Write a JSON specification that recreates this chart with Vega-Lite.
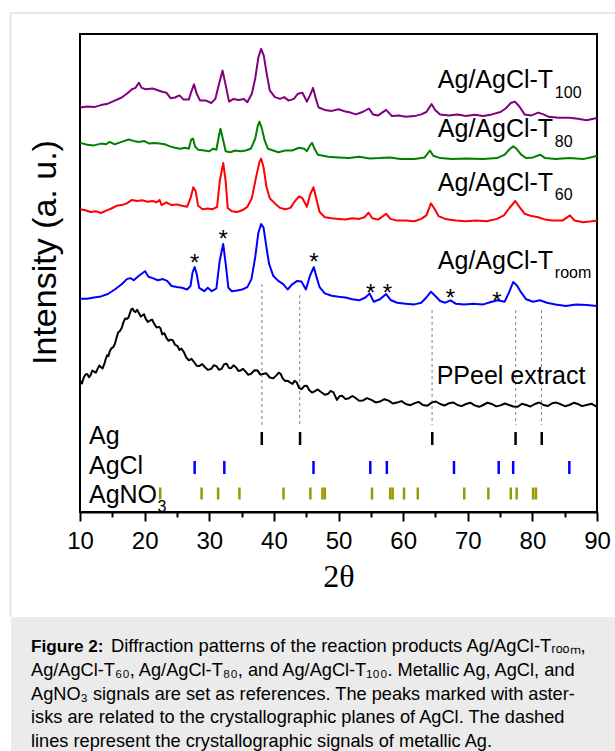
{
"$schema": "https://vega.github.io/schema/vega-lite/v6.json",
"width": 517, "height": 478,
"autosize": {"type": "none"},
"padding": {"left": 80, "top": 34, "right": 18, "bottom": 239},
"background": "white",
"config": {"view": {"stroke": "black", "strokeWidth": 2}, "font": "Liberation Sans", "axis": {"grid": false}},
"resolve": {"axis": {"x": "independent", "y": "independent"}},
"datasets": {
"one": [{}],
"curves": [
{"sample":"T100","theta":10.05,"intensity":404.5},{"sample":"T100","theta":11.12,"intensity":405.5},{"sample":"T100","theta":12.18,"intensity":404.9},{"sample":"T100","theta":13.25,"intensity":406.9},{"sample":"T100","theta":14.31,"intensity":408.3},{"sample":"T100","theta":15.38,"intensity":411.4},{"sample":"T100","theta":16.45,"intensity":414.5},{"sample":"T100","theta":17.25,"intensity":418.3},{"sample":"T100","theta":18.04,"intensity":422.8},{"sample":"T100","theta":18.58,"intensity":424.1},{"sample":"T100","theta":19.11,"intensity":429.3},{"sample":"T100","theta":19.54,"intensity":424.1},{"sample":"T100","theta":20.18,"intensity":422.8},{"sample":"T100","theta":21.24,"intensity":423.5},{"sample":"T100","theta":22.04,"intensity":421.7},{"sample":"T100","theta":22.84,"intensity":420},{"sample":"T100","theta":23.37,"intensity":419.3},{"sample":"T100","theta":24.01,"intensity":413.8},{"sample":"T100","theta":24.71,"intensity":414.5},{"sample":"T100","theta":25.4,"intensity":416.6},{"sample":"T100","theta":26.04,"intensity":412.4},{"sample":"T100","theta":26.84,"intensity":412.4},{"sample":"T100","theta":27.21,"intensity":420},{"sample":"T100","theta":27.64,"intensity":427.6},{"sample":"T100","theta":28.06,"intensity":418.3},{"sample":"T100","theta":28.59,"intensity":411.4},{"sample":"T100","theta":29.5,"intensity":411.4},{"sample":"T100","theta":30.3,"intensity":409},{"sample":"T100","theta":30.94,"intensity":413.1},{"sample":"T100","theta":31.47,"intensity":426.9},{"sample":"T100","theta":32.06,"intensity":441.4},{"sample":"T100","theta":32.54,"intensity":426.9},{"sample":"T100","theta":33.07,"intensity":410.4},{"sample":"T100","theta":33.76,"intensity":413.1},{"sample":"T100","theta":34.56,"intensity":412.1},{"sample":"T100","theta":35.36,"intensity":413.1},{"sample":"T100","theta":35.89,"intensity":409.7},{"sample":"T100","theta":36.59,"intensity":418.3},{"sample":"T100","theta":37.12,"intensity":433.8},{"sample":"T100","theta":37.6,"intensity":454.5},{"sample":"T100","theta":38.03,"intensity":463.1},{"sample":"T100","theta":38.45,"intensity":456.2},{"sample":"T100","theta":38.83,"intensity":440.7},{"sample":"T100","theta":39.36,"intensity":421.7},{"sample":"T100","theta":40.16,"intensity":414.9},{"sample":"T100","theta":40.96,"intensity":413.1},{"sample":"T100","theta":41.6,"intensity":414.9},{"sample":"T100","theta":42.29,"intensity":411.4},{"sample":"T100","theta":43.09,"intensity":413.1},{"sample":"T100","theta":43.73,"intensity":418.3},{"sample":"T100","theta":44.42,"intensity":419.3},{"sample":"T100","theta":45.11,"intensity":410.4},{"sample":"T100","theta":45.59,"intensity":416.6},{"sample":"T100","theta":46.07,"intensity":424.1},{"sample":"T100","theta":46.5,"intensity":413.1},{"sample":"T100","theta":46.92,"intensity":404.5},{"sample":"T100","theta":47.88,"intensity":402.1},{"sample":"T100","theta":48.95,"intensity":401.1},{"sample":"T100","theta":50.01,"intensity":402.8},{"sample":"T100","theta":51.08,"intensity":400.4},{"sample":"T100","theta":51.88,"intensity":399.4},{"sample":"T100","theta":52.68,"intensity":397.6},{"sample":"T100","theta":53.74,"intensity":400},{"sample":"T100","theta":54.71,"intensity":403.5},{"sample":"T100","theta":55.34,"intensity":397.6},{"sample":"T100","theta":56.14,"intensity":396.6},{"sample":"T100","theta":57.37,"intensity":402.1},{"sample":"T100","theta":58.27,"intensity":395.9},{"sample":"T100","theta":59.34,"intensity":396.6},{"sample":"T100","theta":60.41,"intensity":395.2},{"sample":"T100","theta":61.74,"intensity":395.9},{"sample":"T100","theta":62.8,"intensity":397.6},{"sample":"T100","theta":63.6,"intensity":400},{"sample":"T100","theta":64.4,"intensity":408},{"sample":"T100","theta":64.94,"intensity":402.1},{"sample":"T100","theta":65.73,"intensity":397.6},{"sample":"T100","theta":67.07,"intensity":396.6},{"sample":"T100","theta":68.4,"intensity":397.6},{"sample":"T100","theta":69.73,"intensity":395.9},{"sample":"T100","theta":71.06,"intensity":397.3},{"sample":"T100","theta":72.4,"intensity":395.9},{"sample":"T100","theta":73.73,"intensity":397.6},{"sample":"T100","theta":75.06,"intensity":400},{"sample":"T100","theta":75.86,"intensity":403.5},{"sample":"T100","theta":76.66,"intensity":409},{"sample":"T100","theta":77.3,"intensity":410.4},{"sample":"T100","theta":77.99,"intensity":405.5},{"sample":"T100","theta":78.79,"intensity":397.6},{"sample":"T100","theta":79.86,"intensity":396.6},{"sample":"T100","theta":80.92,"intensity":399.4},{"sample":"T100","theta":81.72,"intensity":397.6},{"sample":"T100","theta":82.52,"intensity":395.2},{"sample":"T100","theta":84.12,"intensity":394.2},{"sample":"T100","theta":85.72,"intensity":394.2},{"sample":"T100","theta":87.05,"intensity":393.2},{"sample":"T100","theta":88.38,"intensity":391.8},{"sample":"T100","theta":89.45,"intensity":393.2},{"sample":"T100","theta":90,"intensity":394},
{"sample":"T80","theta":10.05,"intensity":369.1},{"sample":"T80","theta":11.12,"intensity":367.3},{"sample":"T80","theta":12.18,"intensity":366.6},{"sample":"T80","theta":13.25,"intensity":368.4},{"sample":"T80","theta":14.05,"intensity":367.7},{"sample":"T80","theta":14.58,"intensity":370.1},{"sample":"T80","theta":15.38,"intensity":367.7},{"sample":"T80","theta":16.45,"intensity":370.1},{"sample":"T80","theta":17.51,"intensity":372.5},{"sample":"T80","theta":18.31,"intensity":371.1},{"sample":"T80","theta":19.11,"intensity":370.1},{"sample":"T80","theta":19.91,"intensity":371.1},{"sample":"T80","theta":20.71,"intensity":368.4},{"sample":"T80","theta":21.51,"intensity":369.1},{"sample":"T80","theta":22.31,"intensity":368.4},{"sample":"T80","theta":23.11,"intensity":367.7},{"sample":"T80","theta":23.91,"intensity":365.6},{"sample":"T80","theta":24.71,"intensity":364.2},{"sample":"T80","theta":25.5,"intensity":363.2},{"sample":"T80","theta":26.3,"intensity":364.2},{"sample":"T80","theta":26.84,"intensity":363.2},{"sample":"T80","theta":27.21,"intensity":372.5},{"sample":"T80","theta":27.48,"intensity":373.5},{"sample":"T80","theta":27.8,"intensity":365.6},{"sample":"T80","theta":28.28,"intensity":362.2},{"sample":"T80","theta":29.23,"intensity":361.5},{"sample":"T80","theta":30.03,"intensity":360.8},{"sample":"T80","theta":30.57,"intensity":363.2},{"sample":"T80","theta":31.1,"intensity":362.2},{"sample":"T80","theta":31.47,"intensity":375.3},{"sample":"T80","theta":31.74,"intensity":383.2},{"sample":"T80","theta":32.16,"intensity":371.8},{"sample":"T80","theta":32.54,"intensity":360.8},{"sample":"T80","theta":33.23,"intensity":359.8},{"sample":"T80","theta":34.03,"intensity":361.5},{"sample":"T80","theta":34.83,"intensity":360.8},{"sample":"T80","theta":35.63,"intensity":361.5},{"sample":"T80","theta":36.43,"intensity":363.2},{"sample":"T80","theta":37.12,"intensity":373.5},{"sample":"T80","theta":37.49,"intensity":385.6},{"sample":"T80","theta":37.76,"intensity":390.4},{"sample":"T80","theta":38.13,"intensity":383.9},{"sample":"T80","theta":38.56,"intensity":371.8},{"sample":"T80","theta":39.09,"intensity":363.2},{"sample":"T80","theta":39.89,"intensity":361.5},{"sample":"T80","theta":40.69,"intensity":359.8},{"sample":"T80","theta":41.76,"intensity":361.5},{"sample":"T80","theta":42.82,"intensity":361.5},{"sample":"T80","theta":43.89,"intensity":364.2},{"sample":"T80","theta":44.69,"intensity":363.2},{"sample":"T80","theta":45.11,"intensity":360.8},{"sample":"T80","theta":45.59,"intensity":366.6},{"sample":"T80","theta":45.91,"intensity":369.1},{"sample":"T80","theta":46.29,"intensity":363.2},{"sample":"T80","theta":46.82,"intensity":357.3},{"sample":"T80","theta":48.42,"intensity":355.3},{"sample":"T80","theta":50.01,"intensity":354.6},{"sample":"T80","theta":51.61,"intensity":353.9},{"sample":"T80","theta":53.21,"intensity":355.3},{"sample":"T80","theta":54.81,"intensity":353.6},{"sample":"T80","theta":56.41,"intensity":353.9},{"sample":"T80","theta":58.01,"intensity":354.6},{"sample":"T80","theta":59.61,"intensity":352.9},{"sample":"T80","theta":61.74,"intensity":352.9},{"sample":"T80","theta":63.34,"intensity":354.6},{"sample":"T80","theta":64.14,"intensity":361.5},{"sample":"T80","theta":64.67,"intensity":356.3},{"sample":"T80","theta":65.73,"intensity":353.9},{"sample":"T80","theta":67.6,"intensity":352.9},{"sample":"T80","theta":69.73,"intensity":353.6},{"sample":"T80","theta":72.4,"intensity":352.9},{"sample":"T80","theta":74.53,"intensity":353.9},{"sample":"T80","theta":75.7,"intensity":357.3},{"sample":"T80","theta":76.55,"intensity":363.2},{"sample":"T80","theta":77.03,"intensity":365.6},{"sample":"T80","theta":77.56,"intensity":363.2},{"sample":"T80","theta":78.26,"intensity":357.3},{"sample":"T80","theta":79.05,"intensity":353.9},{"sample":"T80","theta":80.12,"intensity":354.6},{"sample":"T80","theta":81.19,"intensity":357.3},{"sample":"T80","theta":81.99,"intensity":353.9},{"sample":"T80","theta":83.58,"intensity":352.9},{"sample":"T80","theta":85.72,"intensity":353.9},{"sample":"T80","theta":87.85,"intensity":352.9},{"sample":"T80","theta":89.45,"intensity":355.3},{"sample":"T80","theta":90,"intensity":356.3},
{"sample":"T60","theta":10.05,"intensity":302.8},{"sample":"T60","theta":10.85,"intensity":301.7},{"sample":"T60","theta":11.65,"intensity":300},{"sample":"T60","theta":12.45,"intensity":300.7},{"sample":"T60","theta":13.25,"intensity":299},{"sample":"T60","theta":14.05,"intensity":301.4},{"sample":"T60","theta":14.85,"intensity":303.5},{"sample":"T60","theta":15.65,"intensity":306.2},{"sample":"T60","theta":16.45,"intensity":306.9},{"sample":"T60","theta":17.25,"intensity":308.6},{"sample":"T60","theta":18.04,"intensity":312.1},{"sample":"T60","theta":18.84,"intensity":311},{"sample":"T60","theta":19.64,"intensity":311.7},{"sample":"T60","theta":20.44,"intensity":310.3},{"sample":"T60","theta":21.24,"intensity":311},{"sample":"T60","theta":21.88,"intensity":309.7},{"sample":"T60","theta":22.31,"intensity":312.1},{"sample":"T60","theta":22.63,"intensity":306.9},{"sample":"T60","theta":23.37,"intensity":309.7},{"sample":"T60","theta":24.17,"intensity":306.9},{"sample":"T60","theta":24.97,"intensity":307.6},{"sample":"T60","theta":25.77,"intensity":306.2},{"sample":"T60","theta":26.57,"intensity":305.2},{"sample":"T60","theta":27.1,"intensity":313.8},{"sample":"T60","theta":27.53,"intensity":324.8},{"sample":"T60","theta":27.9,"intensity":320.7},{"sample":"T60","theta":28.28,"intensity":306.2},{"sample":"T60","theta":28.97,"intensity":302.8},{"sample":"T60","theta":29.77,"intensity":303.5},{"sample":"T60","theta":30.57,"intensity":302.8},{"sample":"T60","theta":31.21,"intensity":305.2},{"sample":"T60","theta":31.63,"intensity":331},{"sample":"T60","theta":32.16,"intensity":348.9},{"sample":"T60","theta":32.54,"intensity":331},{"sample":"T60","theta":32.86,"intensity":304.1},{"sample":"T60","theta":33.5,"intensity":300.7},{"sample":"T60","theta":34.3,"intensity":300},{"sample":"T60","theta":35.1,"intensity":301.7},{"sample":"T60","theta":35.9,"intensity":305.2},{"sample":"T60","theta":36.59,"intensity":313.8},{"sample":"T60","theta":37.23,"intensity":334.4},{"sample":"T60","theta":37.76,"intensity":349.9},{"sample":"T60","theta":38.03,"intensity":353.4},{"sample":"T60","theta":38.4,"intensity":344.8},{"sample":"T60","theta":38.83,"intensity":325.8},{"sample":"T60","theta":39.36,"intensity":313.8},{"sample":"T60","theta":40.16,"intensity":308.6},{"sample":"T60","theta":40.96,"intensity":304.1},{"sample":"T60","theta":41.76,"intensity":302.8},{"sample":"T60","theta":42.56,"intensity":304.1},{"sample":"T60","theta":43.2,"intensity":310.3},{"sample":"T60","theta":43.89,"intensity":315.5},{"sample":"T60","theta":44.42,"intensity":313.8},{"sample":"T60","theta":45.11,"intensity":305.2},{"sample":"T60","theta":45.59,"intensity":317.2},{"sample":"T60","theta":46.13,"intensity":324.8},{"sample":"T60","theta":46.55,"intensity":313.8},{"sample":"T60","theta":47.08,"intensity":300},{"sample":"T60","theta":47.88,"intensity":294.8},{"sample":"T60","theta":48.95,"intensity":293.8},{"sample":"T60","theta":50.01,"intensity":293.1},{"sample":"T60","theta":51.08,"intensity":292.4},{"sample":"T60","theta":52.15,"intensity":293.8},{"sample":"T60","theta":53.21,"intensity":293.1},{"sample":"T60","theta":54.01,"intensity":294.8},{"sample":"T60","theta":54.65,"intensity":299.3},{"sample":"T60","theta":55.24,"intensity":293.8},{"sample":"T60","theta":56.14,"intensity":292.4},{"sample":"T60","theta":57.37,"intensity":298.3},{"sample":"T60","theta":58.01,"intensity":293.1},{"sample":"T60","theta":59.07,"intensity":291.4},{"sample":"T60","theta":60.41,"intensity":291.4},{"sample":"T60","theta":61.74,"intensity":290.7},{"sample":"T60","theta":62.8,"intensity":293.1},{"sample":"T60","theta":63.6,"intensity":296.6},{"sample":"T60","theta":64.3,"intensity":308.6},{"sample":"T60","theta":64.83,"intensity":303.5},{"sample":"T60","theta":65.47,"intensity":295.9},{"sample":"T60","theta":66.53,"intensity":293.1},{"sample":"T60","theta":68.13,"intensity":291.4},{"sample":"T60","theta":69.73,"intensity":290.7},{"sample":"T60","theta":71.33,"intensity":291.4},{"sample":"T60","theta":72.93,"intensity":290.7},{"sample":"T60","theta":74.53,"intensity":293.1},{"sample":"T60","theta":75.59,"intensity":296.6},{"sample":"T60","theta":76.39,"intensity":303.5},{"sample":"T60","theta":77.35,"intensity":311},{"sample":"T60","theta":77.99,"intensity":305.2},{"sample":"T60","theta":78.79,"intensity":298.3},{"sample":"T60","theta":79.86,"intensity":295.9},{"sample":"T60","theta":80.92,"intensity":294.8},{"sample":"T60","theta":81.99,"intensity":292.4},{"sample":"T60","theta":83.05,"intensity":291.4},{"sample":"T60","theta":84.65,"intensity":291.4},{"sample":"T60","theta":85.82,"intensity":296.6},{"sample":"T60","theta":86.52,"intensity":291.4},{"sample":"T60","theta":87.85,"intensity":289.7},{"sample":"T60","theta":88.91,"intensity":290.4},{"sample":"T60","theta":90,"intensity":291.4},
{"sample":"Troom","theta":10.05,"intensity":213.2},{"sample":"Troom","theta":11.12,"intensity":213.2},{"sample":"Troom","theta":12.18,"intensity":214.6},{"sample":"Troom","theta":13.25,"intensity":215.6},{"sample":"Troom","theta":14.31,"intensity":218},{"sample":"Troom","theta":15.38,"intensity":222.5},{"sample":"Troom","theta":16.45,"intensity":227.7},{"sample":"Troom","theta":17.25,"intensity":232.9},{"sample":"Troom","theta":17.78,"intensity":233.9},{"sample":"Troom","theta":18.31,"intensity":231.8},{"sample":"Troom","theta":19.11,"intensity":236.3},{"sample":"Troom","theta":19.64,"intensity":238.7},{"sample":"Troom","theta":20.07,"intensity":240.8},{"sample":"Troom","theta":20.6,"intensity":235.3},{"sample":"Troom","theta":21.24,"intensity":233.9},{"sample":"Troom","theta":22.04,"intensity":231.8},{"sample":"Troom","theta":22.84,"intensity":232.9},{"sample":"Troom","theta":23.48,"intensity":231.1},{"sample":"Troom","theta":24.17,"intensity":226},{"sample":"Troom","theta":24.97,"intensity":224.9},{"sample":"Troom","theta":25.77,"intensity":224.2},{"sample":"Troom","theta":26.57,"intensity":222.5},{"sample":"Troom","theta":27.1,"intensity":226},{"sample":"Troom","theta":27.42,"intensity":239.7},{"sample":"Troom","theta":27.74,"intensity":244.9},{"sample":"Troom","theta":28.06,"intensity":238},{"sample":"Troom","theta":28.44,"intensity":224.2},{"sample":"Troom","theta":29.23,"intensity":220.8},{"sample":"Troom","theta":29.77,"intensity":224.2},{"sample":"Troom","theta":30.41,"intensity":220.8},{"sample":"Troom","theta":31.1,"intensity":223.5},{"sample":"Troom","theta":31.63,"intensity":251.8},{"sample":"Troom","theta":32.16,"intensity":268},{"sample":"Troom","theta":32.54,"intensity":248.3},{"sample":"Troom","theta":32.96,"intensity":224.2},{"sample":"Troom","theta":33.5,"intensity":220.8},{"sample":"Troom","theta":34.3,"intensity":221.5},{"sample":"Troom","theta":35.1,"intensity":222.5},{"sample":"Troom","theta":35.9,"intensity":224.9},{"sample":"Troom","theta":36.53,"intensity":232.9},{"sample":"Troom","theta":37.12,"intensity":255.2},{"sample":"Troom","theta":37.6,"intensity":279.3},{"sample":"Troom","theta":38.03,"intensity":288},{"sample":"Troom","theta":38.4,"intensity":284.5},{"sample":"Troom","theta":38.83,"intensity":265.6},{"sample":"Troom","theta":39.25,"intensity":248.3},{"sample":"Troom","theta":39.89,"intensity":236.3},{"sample":"Troom","theta":40.69,"intensity":231.1},{"sample":"Troom","theta":41.49,"intensity":227.7},{"sample":"Troom","theta":42.13,"intensity":222.5},{"sample":"Troom","theta":42.82,"intensity":227.7},{"sample":"Troom","theta":43.62,"intensity":231.1},{"sample":"Troom","theta":44.26,"intensity":230.4},{"sample":"Troom","theta":44.96,"intensity":222.5},{"sample":"Troom","theta":45.59,"intensity":236.3},{"sample":"Troom","theta":46.18,"intensity":244.9},{"sample":"Troom","theta":46.61,"intensity":234.6},{"sample":"Troom","theta":47.08,"intensity":224.8},{"sample":"Troom","theta":47.88,"intensity":218.6},{"sample":"Troom","theta":48.95,"intensity":216.2},{"sample":"Troom","theta":50.01,"intensity":215.2},{"sample":"Troom","theta":51.08,"intensity":214.5},{"sample":"Troom","theta":52.15,"intensity":212.7},{"sample":"Troom","theta":53.21,"intensity":211.7},{"sample":"Troom","theta":54.17,"intensity":214.5},{"sample":"Troom","theta":54.81,"intensity":218.6},{"sample":"Troom","theta":55.45,"intensity":210.3},{"sample":"Troom","theta":56.41,"intensity":212.7},{"sample":"Troom","theta":57.37,"intensity":217.9},{"sample":"Troom","theta":58.12,"intensity":211.7},{"sample":"Troom","theta":59.07,"intensity":209.3},{"sample":"Troom","theta":60.41,"intensity":208.3},{"sample":"Troom","theta":61.74,"intensity":207.6},{"sample":"Troom","theta":62.8,"intensity":209.3},{"sample":"Troom","theta":63.6,"intensity":214.5},{"sample":"Troom","theta":64.3,"intensity":220.3},{"sample":"Troom","theta":64.94,"intensity":216.2},{"sample":"Troom","theta":65.73,"intensity":211},{"sample":"Troom","theta":66.53,"intensity":209.3},{"sample":"Troom","theta":67.33,"intensity":211.7},{"sample":"Troom","theta":68.13,"intensity":208.3},{"sample":"Troom","theta":69.46,"intensity":207.6},{"sample":"Troom","theta":70.79,"intensity":208.3},{"sample":"Troom","theta":72.4,"intensity":207.6},{"sample":"Troom","theta":73.73,"intensity":210.3},{"sample":"Troom","theta":74.64,"intensity":211.7},{"sample":"Troom","theta":75.7,"intensity":210.3},{"sample":"Troom","theta":76.39,"intensity":219.6},{"sample":"Troom","theta":77.03,"intensity":230},{"sample":"Troom","theta":77.62,"intensity":226.5},{"sample":"Troom","theta":78.26,"intensity":219.6},{"sample":"Troom","theta":79.05,"intensity":212.7},{"sample":"Troom","theta":80.12,"intensity":210.3},{"sample":"Troom","theta":81.19,"intensity":211.7},{"sample":"Troom","theta":82.25,"intensity":209.3},{"sample":"Troom","theta":83.58,"intensity":207.6},{"sample":"Troom","theta":85.18,"intensity":205.9},{"sample":"Troom","theta":86.78,"intensity":207.6},{"sample":"Troom","theta":88.38,"intensity":206.9},{"sample":"Troom","theta":90,"intensity":205.9},
{"sample":"PPeel","theta":10.05,"intensity":131.1},{"sample":"PPeel","theta":10.3,"intensity":128.5},{"sample":"PPeel","theta":10.58,"intensity":134.5},{"sample":"PPeel","theta":10.85,"intensity":137.5},{"sample":"PPeel","theta":11.12,"intensity":138},{"sample":"PPeel","theta":11.4,"intensity":134.8},{"sample":"PPeel","theta":11.65,"intensity":136.9},{"sample":"PPeel","theta":11.9,"intensity":141.5},{"sample":"PPeel","theta":12.18,"intensity":140.4},{"sample":"PPeel","theta":12.45,"intensity":139.2},{"sample":"PPeel","theta":12.72,"intensity":143.1},{"sample":"PPeel","theta":13.0,"intensity":146.5},{"sample":"PPeel","theta":13.25,"intensity":144.8},{"sample":"PPeel","theta":13.5,"intensity":143.6},{"sample":"PPeel","theta":13.78,"intensity":148.3},{"sample":"PPeel","theta":14.0,"intensity":153.5},{"sample":"PPeel","theta":14.21,"intensity":156.9},{"sample":"PPeel","theta":14.4,"intensity":155.8},{"sample":"PPeel","theta":14.58,"intensity":160.3},{"sample":"PPeel","theta":14.85,"intensity":163.8},{"sample":"PPeel","theta":15.11,"intensity":164.5},{"sample":"PPeel","theta":15.4,"intensity":168.2},{"sample":"PPeel","theta":15.65,"intensity":174.1},{"sample":"PPeel","theta":15.9,"intensity":179.5},{"sample":"PPeel","theta":16.18,"intensity":181},{"sample":"PPeel","theta":16.45,"intensity":184},{"sample":"PPeel","theta":16.71,"intensity":189.6},{"sample":"PPeel","theta":17.0,"intensity":193.5},{"sample":"PPeel","theta":17.25,"intensity":193.1},{"sample":"PPeel","theta":17.5,"intensity":194.5},{"sample":"PPeel","theta":17.78,"intensity":199.9},{"sample":"PPeel","theta":17.95,"intensity":202.8},{"sample":"PPeel","theta":18.15,"intensity":203.4},{"sample":"PPeel","theta":18.35,"intensity":200.8},{"sample":"PPeel","theta":18.58,"intensity":199.9},{"sample":"PPeel","theta":18.85,"intensity":202.3},{"sample":"PPeel","theta":19.11,"intensity":198.9},{"sample":"PPeel","theta":19.4,"intensity":195.5},{"sample":"PPeel","theta":19.64,"intensity":196.5},{"sample":"PPeel","theta":19.9,"intensity":197.8},{"sample":"PPeel","theta":20.18,"intensity":193.1},{"sample":"PPeel","theta":20.5,"intensity":190},{"sample":"PPeel","theta":20.82,"intensity":191.3},{"sample":"PPeel","theta":21.15,"intensity":192.5},{"sample":"PPeel","theta":21.51,"intensity":187.9},{"sample":"PPeel","theta":21.85,"intensity":184.5},{"sample":"PPeel","theta":22.2,"intensity":185.1},{"sample":"PPeel","theta":22.45,"intensity":183.8},{"sample":"PPeel","theta":22.73,"intensity":177.6},{"sample":"PPeel","theta":23.05,"intensity":178.8},{"sample":"PPeel","theta":23.37,"intensity":174.1},{"sample":"PPeel","theta":23.7,"intensity":171.2},{"sample":"PPeel","theta":24.01,"intensity":172.4},{"sample":"PPeel","theta":24.35,"intensity":171.8},{"sample":"PPeel","theta":24.71,"intensity":167.2},{"sample":"PPeel","theta":25.05,"intensity":166.2},{"sample":"PPeel","theta":25.4,"intensity":162.1},{"sample":"PPeel","theta":25.7,"intensity":163.5},{"sample":"PPeel","theta":26.04,"intensity":160.3},{"sample":"PPeel","theta":26.45,"intensity":154.5},{"sample":"PPeel","theta":26.84,"intensity":151.7},{"sample":"PPeel","theta":27.25,"intensity":153.2},{"sample":"PPeel","theta":27.64,"intensity":150},{"sample":"PPeel","theta":28.05,"intensity":146.2},{"sample":"PPeel","theta":28.44,"intensity":145.9},{"sample":"PPeel","theta":28.9,"intensity":147.9},{"sample":"PPeel","theta":29.34,"intensity":144.8},{"sample":"PPeel","theta":29.8,"intensity":142.1},{"sample":"PPeel","theta":30.3,"intensity":143.1},{"sample":"PPeel","theta":30.7,"intensity":146.8},{"sample":"PPeel","theta":31.1,"intensity":145.9},{"sample":"PPeel","theta":31.5,"intensity":142.3},{"sample":"PPeel","theta":31.9,"intensity":143.1},{"sample":"PPeel","theta":32.3,"intensity":147.8},{"sample":"PPeel","theta":32.7,"intensity":148.3},{"sample":"PPeel","theta":33.05,"intensity":144.1},{"sample":"PPeel","theta":33.39,"intensity":143.8},{"sample":"PPeel","theta":33.75,"intensity":146.6},{"sample":"PPeel","theta":34.14,"intensity":144.8},{"sample":"PPeel","theta":34.5,"intensity":141.1},{"sample":"PPeel","theta":34.83,"intensity":141.4},{"sample":"PPeel","theta":35.2,"intensity":143.2},{"sample":"PPeel","theta":35.63,"intensity":140.4},{"sample":"PPeel","theta":36.0,"intensity":137.3},{"sample":"PPeel","theta":36.43,"intensity":138},{"sample":"PPeel","theta":37.0,"intensity":141.7},{"sample":"PPeel","theta":37.49,"intensity":141.4},{"sample":"PPeel","theta":37.9,"intensity":137.4},{"sample":"PPeel","theta":38.29,"intensity":138},{"sample":"PPeel","theta":38.8,"intensity":138.8},{"sample":"PPeel","theta":39.36,"intensity":134.5},{"sample":"PPeel","theta":39.9,"intensity":133.6},{"sample":"PPeel","theta":40.43,"intensity":136.9},{"sample":"PPeel","theta":40.75,"intensity":139.3},{"sample":"PPeel","theta":41.06,"intensity":138},{"sample":"PPeel","theta":41.4,"intensity":133.2},{"sample":"PPeel","theta":41.76,"intensity":131.1},{"sample":"PPeel","theta":42.15,"intensity":131.3},{"sample":"PPeel","theta":42.56,"intensity":129.3},{"sample":"PPeel","theta":42.9,"intensity":128.1},{"sample":"PPeel","theta":43.2,"intensity":131.1},{"sample":"PPeel","theta":43.55,"intensity":129.5},{"sample":"PPeel","theta":43.89,"intensity":124.2},{"sample":"PPeel","theta":44.3,"intensity":122.8},{"sample":"PPeel","theta":44.69,"intensity":125.9},{"sample":"PPeel","theta":45.1,"intensity":126.2},{"sample":"PPeel","theta":45.49,"intensity":121.8},{"sample":"PPeel","theta":45.9,"intensity":119.4},{"sample":"PPeel","theta":46.29,"intensity":120.7},{"sample":"PPeel","theta":46.8,"intensity":122.6},{"sample":"PPeel","theta":47.35,"intensity":119.7},{"sample":"PPeel","theta":47.9,"intensity":117.2},{"sample":"PPeel","theta":48.42,"intensity":118.3},{"sample":"PPeel","theta":48.8,"intensity":121.1},{"sample":"PPeel","theta":49.22,"intensity":119.7},{"sample":"PPeel","theta":49.75,"intensity":112.1},{"sample":"PPeel","theta":50.15,"intensity":115.8},{"sample":"PPeel","theta":50.55,"intensity":116.3},{"sample":"PPeel","theta":51.1,"intensity":112.9},{"sample":"PPeel","theta":51.61,"intensity":113.8},{"sample":"PPeel","theta":52.15,"intensity":116},{"sample":"PPeel","theta":52.68,"intensity":113.8},{"sample":"PPeel","theta":53.2,"intensity":111.2},{"sample":"PPeel","theta":53.74,"intensity":111.4},{"sample":"PPeel","theta":54.4,"intensity":113.9},{"sample":"PPeel","theta":55.08,"intensity":112.1},{"sample":"PPeel","theta":55.75,"intensity":109.6},{"sample":"PPeel","theta":56.41,"intensity":110.4},{"sample":"PPeel","theta":57.1,"intensity":112.8},{"sample":"PPeel","theta":57.74,"intensity":111.4},{"sample":"PPeel","theta":58.4,"intensity":108.5},{"sample":"PPeel","theta":59.07,"intensity":109.4},{"sample":"PPeel","theta":59.75,"intensity":110.9},{"sample":"PPeel","theta":60.41,"intensity":108},{"sample":"PPeel","theta":61.1,"intensity":106.8},{"sample":"PPeel","theta":61.74,"intensity":108.7},{"sample":"PPeel","theta":62.4,"intensity":110.1},{"sample":"PPeel","theta":63.07,"intensity":107},{"sample":"PPeel","theta":63.75,"intensity":106.2},{"sample":"PPeel","theta":64.4,"intensity":109.4},{"sample":"PPeel","theta":65.05,"intensity":110.5},{"sample":"PPeel","theta":65.73,"intensity":108},{"sample":"PPeel","theta":66.4,"intensity":106.5},{"sample":"PPeel","theta":67.07,"intensity":108.7},{"sample":"PPeel","theta":67.75,"intensity":109.6},{"sample":"PPeel","theta":68.4,"intensity":107},{"sample":"PPeel","theta":69.05,"intensity":105.9},{"sample":"PPeel","theta":69.73,"intensity":108},{"sample":"PPeel","theta":70.4,"intensity":109.3},{"sample":"PPeel","theta":71.06,"intensity":106.6},{"sample":"PPeel","theta":71.75,"intensity":105.2},{"sample":"PPeel","theta":72.4,"intensity":107},{"sample":"PPeel","theta":73.05,"intensity":109.3},{"sample":"PPeel","theta":73.73,"intensity":108},{"sample":"PPeel","theta":74.4,"intensity":105.6},{"sample":"PPeel","theta":75.06,"intensity":106.6},{"sample":"PPeel","theta":75.75,"intensity":108.5},{"sample":"PPeel","theta":76.39,"intensity":107},{"sample":"PPeel","theta":77.05,"intensity":105.5},{"sample":"PPeel","theta":77.72,"intensity":105.2},{"sample":"PPeel","theta":78.4,"intensity":108.3},{"sample":"PPeel","theta":79.05,"intensity":107},{"sample":"PPeel","theta":79.7,"intensity":105.5},{"sample":"PPeel","theta":80.39,"intensity":108},{"sample":"PPeel","theta":81.05,"intensity":109.5},{"sample":"PPeel","theta":81.72,"intensity":107},{"sample":"PPeel","theta":82.4,"intensity":106},{"sample":"PPeel","theta":83.05,"intensity":108.7},{"sample":"PPeel","theta":83.7,"intensity":109.4},{"sample":"PPeel","theta":84.39,"intensity":107.7},{"sample":"PPeel","theta":85.05,"intensity":105.8},{"sample":"PPeel","theta":85.72,"intensity":107},{"sample":"PPeel","theta":86.4,"intensity":109.2},{"sample":"PPeel","theta":87.05,"intensity":108},{"sample":"PPeel","theta":87.7,"intensity":105.9},{"sample":"PPeel","theta":88.38,"intensity":107},{"sample":"PPeel","theta":89.2,"intensity":108.2},{"sample":"PPeel","theta":90,"intensity":105.2}
],
"refs": [
{"ref":"Ag","theta":38.13},{"ref":"Ag","theta":44.05},{"ref":"Ag","theta":64.51},{"ref":"Ag","theta":77.4},{"ref":"Ag","theta":81.45},
{"ref":"AgCl","theta":27.74},{"ref":"AgCl","theta":32.33},{"ref":"AgCl","theta":46.13},{"ref":"AgCl","theta":54.92},{"ref":"AgCl","theta":57.48},{"ref":"AgCl","theta":67.87},{"ref":"AgCl","theta":74.79},{"ref":"AgCl","theta":77.03},{"ref":"AgCl","theta":85.72},
{"ref":"AgNO3","theta":22.41},{"ref":"AgNO3","theta":28.81},{"ref":"AgNO3","theta":31.37},{"ref":"AgNO3","theta":34.67},{"ref":"AgNO3","theta":41.49},{"ref":"AgNO3","theta":45.65},{"ref":"AgNO3","theta":47.51},{"ref":"AgNO3","theta":47.88},{"ref":"AgNO3","theta":55.18},{"ref":"AgNO3","theta":58.01},{"ref":"AgNO3","theta":58.38},{"ref":"AgNO3","theta":60.14},{"ref":"AgNO3","theta":62.27},{"ref":"AgNO3","theta":69.46},{"ref":"AgNO3","theta":73.19},{"ref":"AgNO3","theta":76.66},{"ref":"AgNO3","theta":77.56},{"ref":"AgNO3","theta":80.12},{"ref":"AgNO3","theta":80.55}
],
"dashes": [
{"theta":38.15,"top":228},{"theta":44.0,"top":217},{"theta":64.48,"top":202},{"theta":77.42,"top":202},{"theta":81.4,"top":202}
],
"stars": [
{"theta":27.74,"intensity":240.6},{"theta":32.17,"intensity":264.7},{"theta":46.18,"intensity":242},{"theta":54.97,"intensity":211.5},{"theta":57.58,"intensity":211.5},{"theta":67.33,"intensity":206.5},{"theta":74.53,"intensity":203}
],
"labels": [
{"label":"Ag/AgCl-T","sub":"100","theta":65.37,"intensity":424},
{"label":"Ag/AgCl-T","sub":"80","theta":65.37,"intensity":375},
{"label":"Ag/AgCl-T","sub":"60","theta":65.37,"intensity":321.4},
{"label":"Ag/AgCl-T","sub":"room","theta":65.37,"intensity":243.2},
{"label":"PPeel extract","sub":"","theta":65.19,"intensity":127.6}
],
"reflabels": [
{"label":"Ag","sub":"","theta":11.39,"intensity":67.6},
{"label":"AgCl","sub":"","theta":11.39,"intensity":38.3},
{"label":"AgNO","sub":"3","theta":11.39,"intensity":9}
]
},
"layer": [
{"data": {"name": "one"}, "mark": {"type": "rect", "fill": "#ebebeb"},
 "encoding": {"x": {"datum": -0.677, "type": "quantitative", "scale": {"domain": [10, 90], "nice": false}, "axis": null},
  "x2": {"datum": 95}, "y": {"datum": -105, "type": "quantitative", "scale": {"domain": [0, 478], "nice": false}, "axis": null}, "y2": {"datum": -260}}},
{"data": {"name": "one"}, "mark": {"type": "rule", "color": "#e0e0e0", "strokeWidth": 1.5},
 "encoding": {"x": {"datum": -0.754, "type": "quantitative", "scale": {"domain": [10, 90], "nice": false}, "axis": null},
  "y": {"datum": 499, "type": "quantitative", "scale": {"domain": [0, 478], "nice": false}, "axis": null}, "y2": {"datum": -105}}},
{"data": {"name": "one"}, "mark": {"type": "rule", "color": "#e0e0e0", "strokeWidth": 1.5},
 "encoding": {"x": {"datum": -0.754, "type": "quantitative", "scale": {"domain": [10, 90], "nice": false}, "axis": null}, "x2": {"datum": 95},
  "y": {"datum": 499, "type": "quantitative", "scale": {"domain": [0, 478], "nice": false}, "axis": null}}},
{"data": {"name": "dashes"},
 "mark": {"type": "rule", "color": "#808080", "strokeWidth": 1, "strokeDash": [3, 3]},
 "encoding": {"x": {"field": "theta", "type": "quantitative", "scale": {"domain": [10, 90], "nice": false},
   "axis": {"values": [15, 25, 35, 45, 55, 65, 75, 85], "labels": false, "domain": false, "ticks": true, "tickSize": 5, "tickWidth": 2, "tickColor": "black", "title": null, "grid": false, "orient": "bottom"}},
  "y": {"field": "top", "type": "quantitative", "scale": {"domain": [0, 478], "nice": false}, "axis": null}, "y2": {"datum": 87}}},
{"data": {"name": "curves"},
 "mark": {"type": "line", "strokeWidth": 2, "strokeJoin": "round"},
 "encoding": {"x": {"field": "theta", "type": "quantitative", "scale": {"domain": [10, 90], "nice": false},
   "axis": {"values": [10, 20, 30, 40, 50, 60, 70, 80, 90], "labelFontSize": 24, "labelColor": "black", "labelFont": "Liberation Sans", "labelPadding": 8, "labelFlush": false, "tickSize": 9, "tickWidth": 2, "tickColor": "black", "domainColor": "black", "domainWidth": 2, "grid": false, "title": "2θ", "titleFont": "Liberation Serif", "titleFontSize": 32, "titleFontWeight": "normal", "titleColor": "black", "titlePadding": 8, "orient": "bottom"}},
  "y": {"field": "intensity", "type": "quantitative", "scale": {"domain": [0, 478], "nice": false},
   "axis": {"labels": false, "ticks": false, "domain": false, "grid": false, "title": "Intensity (a. u.)", "titleFont": "Liberation Sans", "titleFontSize": 34, "titleFontWeight": "normal", "titleColor": "black", "titlePadding": 18, "titleY": 218}},
  "color": {"field": "sample", "type": "nominal", "scale": {"domain": ["PPeel", "Troom", "T60", "T80", "T100"], "range": ["#000000", "#0000ff", "#ff0000", "#008000", "#800080"]}, "legend": null}}},
{"data": {"name": "refs"}, "transform": [{"filter": "datum.ref === 'Ag'"}],
 "mark": {"type": "rule", "color": "black", "strokeWidth": 2.5},
 "encoding": {"x": {"field": "theta", "type": "quantitative", "scale": {"domain": [10, 90], "nice": false}, "axis": null},
  "y": {"datum": 80, "type": "quantitative", "scale": {"domain": [0, 478], "nice": false}, "axis": null}, "y2": {"datum": 67}}},
{"data": {"name": "refs"}, "transform": [{"filter": "datum.ref === 'AgCl'"}],
 "mark": {"type": "rule", "color": "#0000ff", "strokeWidth": 2.5},
 "encoding": {"x": {"field": "theta", "type": "quantitative", "scale": {"domain": [10, 90], "nice": false}, "axis": null},
  "y": {"datum": 51, "type": "quantitative", "scale": {"domain": [0, 478], "nice": false}, "axis": null}, "y2": {"datum": 38}}},
{"data": {"name": "refs"}, "transform": [{"filter": "datum.ref === 'AgNO3'"}],
 "mark": {"type": "rule", "color": "#999900", "strokeWidth": 2.5},
 "encoding": {"x": {"field": "theta", "type": "quantitative", "scale": {"domain": [10, 90], "nice": false}, "axis": null},
  "y": {"datum": 24.5, "type": "quantitative", "scale": {"domain": [0, 478], "nice": false}, "axis": null}, "y2": {"datum": 12.5}}},
{"data": {"name": "stars"},
 "mark": {"type": "text", "text": "*", "fontSize": 24, "font": "Liberation Sans", "color": "black", "align": "center", "baseline": "alphabetic"},
 "encoding": {"x": {"field": "theta", "type": "quantitative", "scale": {"domain": [10, 90], "nice": false}, "axis": null},
  "y": {"field": "intensity", "type": "quantitative", "scale": {"domain": [0, 478], "nice": false}, "axis": null}}},
{"data": {"name": "labels"},
 "mark": {"type": "text", "fontSize": 25, "font": "Liberation Sans", "color": "black", "align": "left", "baseline": "alphabetic"},
 "encoding": {"x": {"field": "theta", "type": "quantitative", "scale": {"domain": [10, 90], "nice": false}, "axis": null},
  "y": {"field": "intensity", "type": "quantitative", "scale": {"domain": [0, 478], "nice": false}, "axis": null}, "text": {"field": "label"}}},
{"data": {"name": "labels"},
 "mark": {"type": "text", "fontSize": 16, "font": "Liberation Sans", "color": "black", "align": "left", "baseline": "alphabetic", "dx": 117, "dy": 9.5},
 "encoding": {"x": {"field": "theta", "type": "quantitative", "scale": {"domain": [10, 90], "nice": false}, "axis": null},
  "y": {"field": "intensity", "type": "quantitative", "scale": {"domain": [0, 478], "nice": false}, "axis": null}, "text": {"field": "sub"}}},
{"data": {"name": "reflabels"},
 "mark": {"type": "text", "fontSize": 25, "font": "Liberation Sans", "color": "black", "align": "left", "baseline": "alphabetic"},
 "encoding": {"x": {"field": "theta", "type": "quantitative", "scale": {"domain": [10, 90], "nice": false}, "axis": null},
  "y": {"field": "intensity", "type": "quantitative", "scale": {"domain": [0, 478], "nice": false}, "axis": null}, "text": {"field": "label"}}},
{"data": {"name": "reflabels"},
 "mark": {"type": "text", "fontSize": 16, "font": "Liberation Sans", "color": "black", "align": "left", "baseline": "alphabetic", "dx": 68.5, "dy": 8.5},
 "encoding": {"x": {"field": "theta", "type": "quantitative", "scale": {"domain": [10, 90], "nice": false}, "axis": null},
  "y": {"field": "intensity", "type": "quantitative", "scale": {"domain": [0, 478], "nice": false}, "axis": null}, "text": {"field": "sub"}}},
{"data": {"name": "one"}, "mark": {"type": "text", "text": "Figure 2:", "fontSize": 17.2, "fontWeight": "bold", "font": "Liberation Sans", "color": "black", "align": "left", "baseline": "alphabetic"},
 "encoding": {"x": {"datum": 2.418, "type": "quantitative", "scale": {"domain": [10, 90], "nice": false}, "axis": null},
  "y": {"datum": -140, "type": "quantitative", "scale": {"domain": [0, 478], "nice": false}, "axis": null}}},
{"data": {"name": "one"}, "mark": {"type": "text", "text": "Diffraction patterns of the reaction products Ag/AgCl-Tᵣₒₒₘ,", "fontSize": 18.4, "font": "Liberation Sans", "color": "black", "align": "left", "baseline": "alphabetic", "dx": 80},
 "encoding": {"x": {"datum": 2.418, "type": "quantitative", "scale": {"domain": [10, 90], "nice": false}, "axis": null},
  "y": {"datum": -140, "type": "quantitative", "scale": {"domain": [0, 478], "nice": false}, "axis": null}}},
{"data": {"name": "one"}, "mark": {"type": "text", "text": ["Ag/AgCl-T₆₀, Ag/AgCl-T₈₀, and Ag/AgCl-T₁₀₀. Metallic Ag, AgCl, and", "AgNO₃ signals are set as references. The peaks marked with aster-", "isks are related to the crystallographic planes of AgCl. The dashed", "lines represent the crystallographic signals of metallic Ag."], "fontSize": 18.2, "lineHeight": 23.5, "font": "Liberation Sans", "color": "black", "align": "left", "baseline": "alphabetic"},
 "encoding": {"x": {"datum": 2.418, "type": "quantitative", "scale": {"domain": [10, 90], "nice": false}, "axis": null},
  "y": {"datum": -164, "type": "quantitative", "scale": {"domain": [0, 478], "nice": false}, "axis": null}}}
]
}
